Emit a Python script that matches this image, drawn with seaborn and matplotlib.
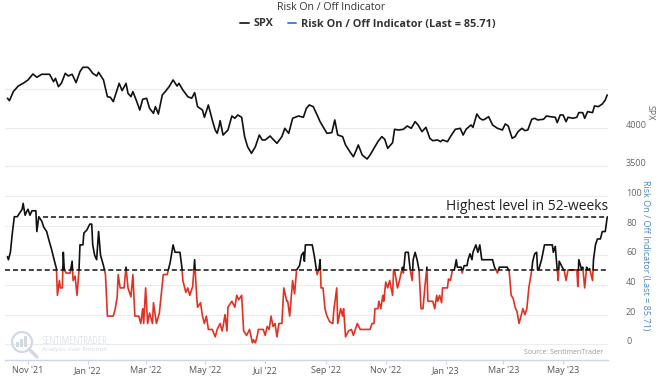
import numpy as np
import pandas as pd
import matplotlib
matplotlib.use("Agg")
import matplotlib.pyplot as plt
import matplotlib.transforms as mtransforms
from matplotlib.patches import Rectangle, Ellipse
from matplotlib.lines import Line2D
import seaborn as sns

# ---------------- data ----------------
title = "Risk On / Off Indicator"
start_date = "2021-11-01"

spx_day = [-21, -19, -15, -10, -5, 0, 5, 9, 14, 22,
           26, 28, 31, 34, 38, 41, 45, 49, 53, 56,
           61, 63, 66, 70, 72, 77, 81, 84, 87, 91,
           93, 96, 100, 102, 105, 107, 111, 114, 117, 121,
           124, 128, 130, 133, 137, 140, 144, 148, 152, 154,
           158, 163, 167, 170, 173, 178, 180, 184, 188, 191,
           193, 195, 196, 199, 204, 208, 211, 214, 218, 221,
           224, 228, 232, 236, 239, 242, 247, 250, 254, 259,
           262, 266, 270, 276, 281, 284, 287, 291, 295, 298,
           301, 305, 310, 313, 316, 321, 324, 329, 332, 335,
           337, 341, 346, 349, 353, 357, 361, 364, 367, 372,
           374, 378, 383, 387, 391, 395, 398, 402, 406, 410,
           413, 418, 421, 423, 428, 431, 436, 441, 444, 447,
           452, 454, 458, 461, 464, 466, 470, 474, 479, 484,
           487, 490, 494, 497, 500, 504, 507, 510, 514, 517,
           520, 526, 529, 533, 538, 540, 543, 546, 549, 551,
           556, 560, 562, 566, 568, 571, 576, 578, 582, 586,
           589, 591]
spx_value = [4383, 4352, 4470, 4543, 4578, 4622, 4700, 4657, 4696, 4696,
             4600, 4643, 4535, 4578, 4709, 4674, 4696, 4587, 4731, 4787,
             4787, 4761, 4709, 4674, 4722, 4622, 4404, 4396, 4339, 4500,
             4578, 4483, 4578, 4448, 4404, 4470, 4339, 4230, 4370, 4383,
             4252, 4187, 4274, 4178, 4426, 4470, 4535, 4622, 4543, 4578,
             4491, 4404, 4383, 4457, 4274, 4230, 4135, 4296, 4100, 3969,
             3926, 4022, 4091, 3904, 3969, 4152, 4122, 4165, 4135, 3883,
             3752, 3665, 3752, 3904, 3839, 3839, 3891, 3848, 3795, 3883,
             3991, 3926, 4122, 4152, 4135, 4252, 4296, 4274, 4165, 4078,
             4013, 3926, 3935, 4100, 3904, 3883, 3774, 3674, 3621, 3708,
             3774, 3643, 3591, 3643, 3730, 3817, 3883, 3848, 3730, 3804,
             3978, 3969, 3978, 4022, 3991, 4078, 4035, 3948, 4004, 3861,
             3830, 3839, 3817, 3839, 3817, 3883, 3978, 3991, 3904, 3978,
             4035, 4004, 4178, 4122, 4100, 4109, 4143, 4035, 3991, 3969,
             4048, 4022, 3861, 3883, 3948, 3991, 3961, 3969, 4109, 4122,
             4100, 4109, 4152, 4143, 4135, 4065, 4165, 4165, 4078, 4135,
             4122, 4135, 4196, 4196, 4122, 4209, 4196, 4283, 4274, 4309,
             4361, 4426]

ind_day = [-21, -20, -18, -16, -14, -11, -9, -6, -5, -3,
           -1, 0, 2, 4, 8, 9, 11, 14, 16, 19,
           21, 24, 27, 29, 30, 32, 33, 35, 36, 37,
           39, 43, 45, 46, 48, 50, 52, 53, 56, 57,
           60, 63, 65, 66, 68, 70, 72, 74, 77, 79,
           81, 87, 89, 91, 92, 94, 98, 100, 102, 105,
           107, 109, 113, 115, 117, 118, 120, 122, 124, 127,
           128, 131, 134, 138, 142, 145, 148, 150, 155, 157,
           158, 161, 163, 165, 168, 170, 172, 173, 176, 178,
           180, 182, 184, 188, 191, 193, 196, 198, 199, 201,
           203, 204, 208, 211, 213, 215, 218, 220, 223, 226,
           229, 230, 232, 234, 235, 240, 242, 244, 246, 248,
           250, 252, 254, 256, 259, 261, 264, 265, 267, 270,
           272, 274, 277, 279, 281, 282, 283, 290, 292, 294,
           295, 297, 298, 299, 301, 303, 305, 308, 311, 312,
           315, 316, 319, 321, 322, 324, 327, 330, 332, 334,
           336, 339, 349, 351, 353, 354, 357, 358, 360, 362,
           363, 365, 367, 369, 372, 373, 374, 377, 379, 382,
           383, 385, 388, 390, 392, 393, 395, 397, 399, 401,
           403, 405, 407, 408, 413, 415, 417, 418, 420, 422,
           423, 428, 429, 431, 433, 435, 437, 438, 442, 443,
           445, 448, 449, 451, 453, 454, 457, 459, 461, 463,
           474, 476, 479, 480, 481, 489, 491, 493, 495, 497,
           499, 501, 503, 505, 507, 509, 511, 514, 515, 517,
           519, 520, 521, 524, 527, 535, 536, 538, 540, 541,
           542, 545, 547, 549, 551, 560, 561, 562, 565, 566,
           568, 570, 571, 573, 576, 577, 579, 581, 584, 586,
           589, 591]
ind_value = [59, 57, 62, 75, 86, 86, 88, 91, 95, 87,
             90, 91, 87, 90, 90, 76, 86, 83, 79, 76,
             71, 64, 56, 51, 33, 43, 38, 38, 62, 50,
             48, 48, 56, 43, 46, 33, 50, 67, 67, 75,
             77, 81, 81, 67, 60, 57, 76, 60, 53, 47,
             19, 19, 24, 32, 47, 38, 38, 52, 38, 32,
             47, 19, 19, 14, 24, 14, 38, 14, 21, 14,
             28, 14, 21, 47, 47, 55, 67, 62, 62, 52,
             43, 35, 38, 33, 39, 57, 33, 25, 28, 19,
             14, 19, 10, 10, 5, 10, 14, 9, 12, 20,
             9, 25, 29, 25, 33, 30, 33, 9, 6, 10,
             1, 3, 1, 6, 10, 10, 6, 12, 10, 19,
             12, 14, 5, 14, 14, 38, 29, 29, 19, 43,
             34, 50, 53, 60, 62, 56, 67, 67, 60, 51,
             47, 51, 57, 38, 38, 24, 19, 15, 14, 23,
             38, 14, 24, 19, 24, 5, 9, 10, 6, 10,
             14, 10, 10, 14, 14, 24, 24, 29, 24, 33,
             29, 42, 38, 43, 33, 50, 50, 38, 43, 52,
             48, 62, 62, 50, 43, 57, 62, 57, 50, 24,
             24, 39, 52, 29, 29, 24, 33, 29, 33, 28,
             38, 38, 44, 43, 50, 50, 57, 52, 52, 48,
             53, 53, 57, 61, 57, 62, 67, 62, 67, 57,
             57, 52, 48, 50, 52, 52, 49, 33, 31, 25,
             22, 14, 19, 24, 20, 24, 38, 50, 56, 61,
             62, 50, 50, 57, 67, 67, 62, 66, 50, 43,
             56, 52, 50, 43, 50, 50, 39, 57, 50, 52,
             38, 52, 50, 51, 43, 57, 67, 71, 71, 76,
             76, 85.71]

threshold = 50
high_level = 85.71
high_start_day = 15
high_text = "Highest level in 52-weeks"

tick_dates = ["2021-11-01", "2022-01-01", "2022-03-01", "2022-05-01", "2022-07-01",
              "2022-09-01", "2022-11-01", "2023-01-01", "2023-03-01", "2023-05-01"]
tick_labels = ["Nov '21", "Jan '22", "Mar '22", "May '22", "Jul '22",
               "Sep '22", "Nov '22", "Jan '23", "Mar '23", "May '23"]
spx_ticks = [3500, 4000, 4500]
spx_tick_labels = ["3500", "4000", ""]
ind_ticks = [0, 20, 40, 60, 80, 100]
ind_tick_labels = ["0", "20", "40", "60", "80", "100"]

legend_labels = ["SPX", "Risk On / Off Indicator (Last = 85.71)"]
right_title_top = "SPX"
right_title_bottom = "Risk On / Off Indicator (Last = 85.71)"
source_text = "Source: SentimenTrader"

# ---------------- style ----------------
sns.set_theme(style="white")
plt.rcParams['font.family'] = ['Open Sans', 'DejaVu Sans']

W, H = 661, 379
fig = plt.figure(figsize=(W / 100, H / 100), dpi=100)
fig.patch.set_facecolor("white")


def px_rect(x0, y0, x1, y1):
    return [x0 / W, 1 - y1 / H, (x1 - x0) / W, (y1 - y0) / H]


ax1 = fig.add_axes(px_rect(5, 45, 608, 180))
ax2 = fig.add_axes(px_rect(5, 186, 608, 360))

base = pd.Timestamp(start_date)
spx = pd.DataFrame({"date": base + pd.to_timedelta(spx_day, unit="D"), "SPX": spx_value})
ind = pd.DataFrame({"date": base + pd.to_timedelta(ind_day, unit="D"), "value": ind_value})

x_min = base + pd.Timedelta(days=-23.5)
x_max = base + pd.Timedelta(days=591.8)

# top panel
sns.lineplot(data=spx, x="date", y="SPX", ax=ax1, color="#111111", linewidth=1.2)
ax1.set_xlim(x_min, x_max)
ax1.set_ylim(3317, 5078)

# bottom panel: black above threshold, red below
n_before = len(ax2.lines)
sns.lineplot(data=ind, x="date", y="value", ax=ax2, color="#111111", linewidth=1.2)
black_line = ax2.lines[n_before]
sns.lineplot(data=ind, x="date", y="value", ax=ax2, color="#e03223", linewidth=1.2)
red_line = ax2.lines[n_before + 1]
blend = mtransforms.blended_transform_factory(ax2.transAxes, ax2.transData)
clip_hi = Rectangle((0, threshold), 1, 1000, transform=blend)
clip_lo = Rectangle((0, threshold - 1000), 1, 1000, transform=blend)
black_line.set_clip_path(clip_hi)
red_line.set_clip_path(clip_lo)

ax2.set_xlim(x_min, x_max)
ax2.set_ylim(-10.6, 106.7)

dash = (0, (3.3, 1.9))
ax2.axhline(threshold, color="#111111", lw=1.1, ls=dash, zorder=3)
ax2.hlines(high_level, base + pd.Timedelta(days=high_start_day), x_max,
           color="#111111", lw=1.1, linestyles=[dash], zorder=3)
ax2.text(1.0, 92.6, high_text, transform=blend, ha="right", va="center",
         fontsize=10, color="#222222")

# axes styling
for ax in (ax1, ax2):
    ax.set_xlabel("")
    ax.set_ylabel("")
    for s in ax.spines.values():
        s.set_visible(False)
    ax.yaxis.tick_right()
    ax.grid(axis="y", color="#ececec", lw=0.8)
    ax.grid(axis="x", visible=False)
    ax.set_axisbelow(True)
    ax.tick_params(axis="y", length=0, pad=13, labelsize=6.5, labelcolor="#666666")

ax1.set_yticks(spx_ticks, spx_tick_labels)
ax2.set_yticks(ind_ticks, ind_tick_labels)
for ax in (ax1, ax2):
    for lab in ax.get_yticklabels():
        lab.set_verticalalignment("baseline")

ax1.tick_params(axis="x", bottom=False, labelbottom=False)
ax2.spines["bottom"].set_visible(True)
ax2.spines["bottom"].set_color("#ccd6eb")
ax2.spines["bottom"].set_linewidth(1.0)
ax2.set_xticks(pd.to_datetime(tick_dates), tick_labels)
ax2.tick_params(axis="x", bottom=True, length=3, width=0.8, color="#ccd6eb",
                labelsize=6.5, labelcolor="#555555", pad=1.2)

# titles and labels
fig.text(331 / W, 1 - 7 / H, title, ha="center", va="center", fontsize=7.6, color="#333333")
fig.text(650 / W, 1 - 113 / H, right_title_top, rotation=270, ha="center", va="center",
         fontsize=6.5, color="#666666")
fig.text(646 / W, 1 - 255 / H, right_title_bottom, rotation=270, ha="center", va="center",
         fontsize=6.5, color="#4a86c8")

handles = [Line2D([], [], color="#333333", lw=1.4), Line2D([], [], color="#4a86c8", lw=1.4)]
fig.legend(handles, legend_labels, loc="center left", bbox_to_anchor=(240 / W, 1 - 24 / H),
           ncol=2, frameon=False, prop={"size": 7.8, "weight": "bold"},
           handlelength=0.8, handletextpad=0.45, columnspacing=1.3, labelcolor="#333333",
           borderaxespad=0, borderpad=0)

fig.text(603 / W, 1 - 353 / H, source_text, ha="right", va="center", fontsize=5, color="#999999")

# watermark
wm = "#d3d9e0"
fig.text(42 / W, 1 - 341 / H, "SENTIMENTRADER", ha="left", va="center", fontsize=8,
         color=wm, fontstretch="condensed")
fig.text(42 / W, 1 - 349.5 / H, "Analysis over Emotion", ha="left", va="center",
         fontsize=4.6, color=wm)
fig.add_artist(Ellipse((22 / W, 1 - 342 / H), 20 / W, 20 / H, transform=fig.transFigure,
                       fill=False, edgecolor=wm, lw=1.6))
fig.add_artist(Line2D([29 / W, 37 / W], [1 - 349 / H, 1 - 357 / H], transform=fig.transFigure,
                      color=wm, lw=2.5))
for bx, bh in [(16, 5), (20, 8), (24, 11)]:
    fig.add_artist(Rectangle((bx / W, 1 - 347 / H), 3 / W, bh / H, transform=fig.transFigure,
                             facecolor=wm, edgecolor="none"))

fig.savefig("out.png", dpi=100, facecolor="white")
